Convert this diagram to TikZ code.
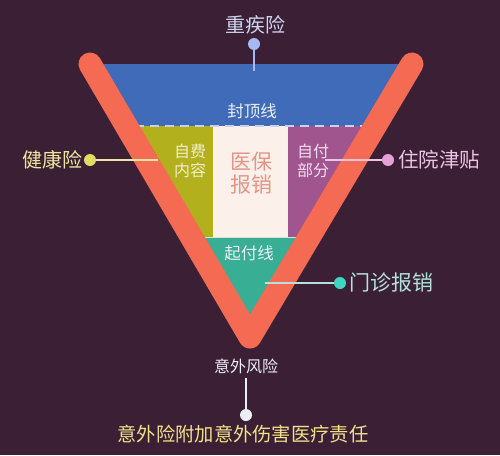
\documentclass[tikz,border=0pt]{standalone}
\usepackage{fontspec}
\setmainfont{Noto Sans CJK SC}
\definecolor{bgc}{HTML}{3B2035}
\definecolor{vred}{HTML}{F46A52}
\definecolor{bandblue}{HTML}{3F6BB8}
\definecolor{bandolive}{HTML}{B3B01E}
\definecolor{bandcream}{HTML}{FBF1EA}
\definecolor{bandpurple}{HTML}{A0558F}
\definecolor{bandteal}{HTML}{38AE94}
\definecolor{txlav}{HTML}{D0D4EE}
\definecolor{dotlav}{HTML}{A9B8F0}
\definecolor{txwhite}{HTML}{ECEEF6}
\definecolor{txolive}{HTML}{F2EEC8}
\definecolor{txsalmon}{HTML}{E59488}
\definecolor{txpink}{HTML}{F4DDEE}
\definecolor{txyellow}{HTML}{EDE6A0}
\definecolor{dotyellow}{HTML}{E2DC62}
\definecolor{txrose}{HTML}{EBC3E3}
\definecolor{dotrose}{HTML}{E4A2D2}
\definecolor{txteal}{HTML}{B4E2DA}
\definecolor{dotteal}{HTML}{3ED6BE}
\definecolor{txgold}{HTML}{F2E08A}
\definecolor{dashc}{HTML}{C8D2EC}
\begin{document}
\begin{tikzpicture}[x=1pt,y=-1pt,
  lab/.style={inner sep=0pt, align=center},
  dotnode/.style={circle, inner sep=0pt, minimum size=12pt},
  conn/.style={line width=1.3pt},
  vstroke/.style={line width=23pt, line cap=round, line join=round, draw=vred}]
\fill[bgc] (0,0) rectangle (500,455);
\useasboundingbox (0,0) rectangle (500,455);
\coordinate (L) at (90,64);
\coordinate (R) at (412,64);
\coordinate (B) at (250,337);
\begin{scope}
  \clip (L) -- (R) -- (B) -- cycle;
  \fill[bandblue] (0,60) rectangle (500,126);
  \fill[bandolive] (0,126) rectangle (213,237);
  \fill[bandcream] (213,126) rectangle (288,237);
  \fill[bandpurple] (288,126) rectangle (500,237);
  \fill[bandteal] (0,237) rectangle (500,345);
  \draw[dashc, line width=1.4pt, dash pattern=on 9pt off 6pt] (0,126) -- (500,126);
  \draw[bandcream!80!bandteal, line width=0.8pt] (0,237.5) -- (500,237.5);
\end{scope}
% inner labels
\node[lab, text=txwhite, font=\fontsize{16.5}{16.5}\selectfont] (fdx) at (252,111) {封顶线};
\node[lab, text=txolive, font=\fontsize{16}{19}\selectfont] (zfnr) at (190,161) {自费\\内容};
\node[lab, text=txsalmon, font=\fontsize{21}{23}\selectfont] (ybbx) at (251,173) {医保\\报销};
\node[lab, text=txpink, font=\fontsize{16}{19}\selectfont] (zfbf) at (313,161) {自付\\部分};
\node[lab, text=txwhite, font=\fontsize{16.5}{16.5}\selectfont] (qfx) at (249,253) {起付线};
% V shape
\draw[vstroke] (L) -- (B) -- (R);
% top: 重疾险
\node[lab, text=txlav, font=\fontsize{20}{20}\selectfont] (zjx) at (255,25) {重疾险};
\node[dotnode, fill=dotlav] (zjd) at (254,44) {};
\coordinate (zje) at (254,71);
\draw[conn, draw=dotlav] (zjd) -- (zje);
% left: 健康险
\node[lab, text=txyellow, font=\fontsize{20}{20}\selectfont] (jkx) at (52,160) {健康险};
\node[dotnode, fill=dotyellow] (jkd) at (90,160) {};
\coordinate (jke) at (158,160);
\draw[conn, draw=txyellow] (jkd) -- (jke);
% right: 住院津贴
\node[lab, text=txrose, font=\fontsize{20.5}{20.5}\selectfont] (zyjt) at (439,160) {住院津贴};
\node[dotnode, fill=dotrose] (zyd) at (388,160) {};
\coordinate (zye) at (325,160);
\draw[conn, draw=txrose] (zyd) -- (zye);
% right lower: 门诊报销
\node[lab, text=txteal, font=\fontsize{21}{21}\selectfont] (mzbx) at (391,283) {门诊报销};
\node[dotnode, fill=dotteal] (mzd) at (340,283) {};
\coordinate (mze) at (265,283);
\draw[conn, draw=txteal] (mzd) -- (mze);
% bottom
\node[lab, text=txwhite, font=\fontsize{16}{16}\selectfont] (ywfx) at (246,366) {意外风险};
\node[dotnode, fill=txwhite] (ywd) at (246,415) {};
\draw[conn, draw=txwhite] (ywfx.south) ++(0,4) coordinate (ywt) (ywt) -- (ywd);
\node[lab, text=txgold, font=\fontsize{19.3}{19.3}\selectfont] (ywx) at (243,434) {意外险附加意外伤害医疗责任};
\end{tikzpicture}
\end{document}
